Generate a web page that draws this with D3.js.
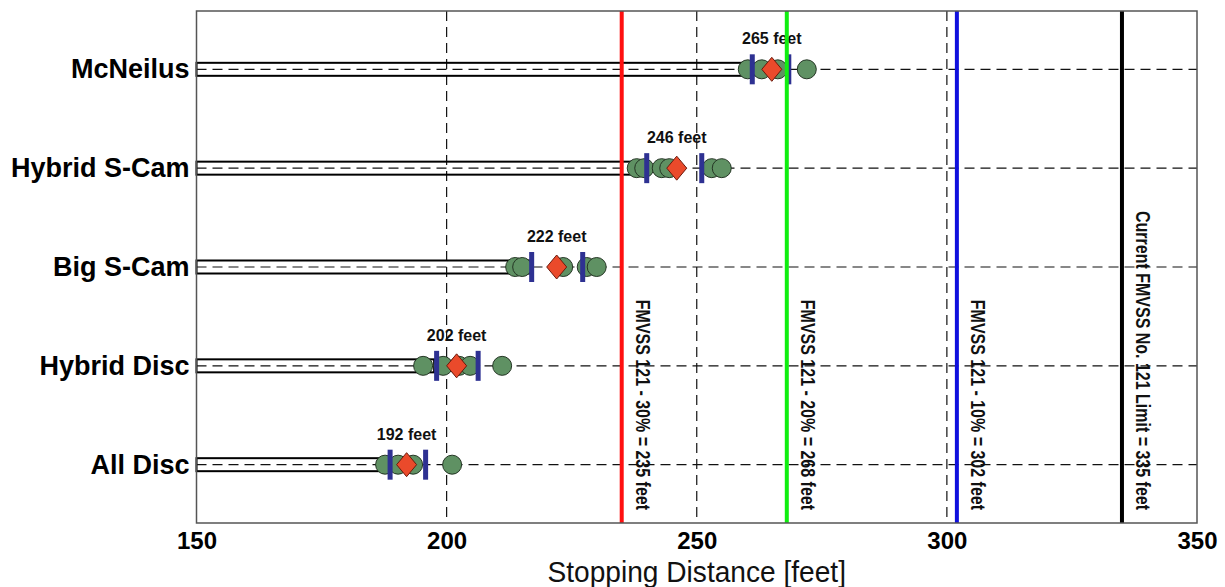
<!DOCTYPE html>
<html>
<head>
<meta charset="utf-8">
<script src="https://cdn.jsdelivr.net/npm/d3@7"></script>
<style>
  body { margin: 0; background: #fff; }
  svg text { font-family: Arial, "Liberation Sans", sans-serif; }
</style>
</head>
<body>
<div id="chart"></div>
<script>
// categories, top to bottom
var categories = ["McNeilus", "Hybrid S-Cam", "Big S-Cam", "Hybrid Disc", "All Disc"];
// average stopping distance per configuration (feet)
var means = [265, 246, 222, 202, 192];
// end of the outlined bar
var barEnds = [261, 240, 217, 197.5, 187];
// blue interval bars
var lowerBars = [261.1, 240, 217, 198, 188.7];
var upperBars = [268.4, 251, 227.2, 206.3, 195.8];
// individual stops
var stops = [
  [260.2, 263, 266.2, 272],
  [238, 239.5, 243, 244.5, 253, 255],
  [213.7, 215.1, 223.3, 228, 230],
  [195.3, 199.3, 202.5, 204.7, 211.1],
  [187.7, 190.3, 193.3, 201.1]
];
// reference limits
var limitValues = [235, 268, 302, 335];
var limitLabels = ["FMVSS 121 - 30%  = 235 feet", "FMVSS 121 - 20%  = 268 feet",
                   "FMVSS 121 - 10%  = 302 feet", "Current FMVSS No. 121 Limit = 335 feet"];
var limitColors = ["#ff1010", "#10ee10", "#1010dd", "#000000"];
var xTicks = [150, 200, 250, 300, 350];
var gridTicks = [200, 250, 300];

function main(){
  var margin = {top: 11, right: 28, bottom: 64, left: 196.5},
      width = 1225 - margin.left - margin.right,
      height = 587 - margin.top - margin.bottom;

  var svg = d3.select("#chart").append("svg")
      .attr("width", 1225)
      .attr("height", 587)
    .append("g")
      .attr("transform", "translate(" + margin.left + "," + margin.top + ")");

  var x = d3.scaleLinear().domain([150, 350]).range([0, width]);
  var y = d3.scalePoint().domain(categories).range([0, height]).padding(0.59);

  // vertical dashed grid
  svg.append("g").selectAll("line")
    .data(gridTicks).enter().append("line")
      .attr("x1", function(d){ return x(d); })
      .attr("x2", function(d){ return x(d); })
      .attr("y1", 0).attr("y2", height)
      .attr("stroke", "#111").attr("stroke-width", 1.2)
      .attr("stroke-dasharray", "10,6");

  // horizontal dashed lines per category
  svg.append("g").selectAll("line")
    .data(categories).enter().append("line")
      .attr("x1", 0).attr("x2", width)
      .attr("y1", function(d){ return y(d); })
      .attr("y2", function(d){ return y(d); })
      .attr("stroke", "#111").attr("stroke-width", 1.2)
      .attr("stroke-dasharray", "10,6");

  // outlined bars
  svg.append("g").selectAll("rect")
    .data(categories).enter().append("rect")
      .attr("x", x(150))
      .attr("y", function(d){ return y(d) - 6.5; })
      .attr("width", function(d, i){ return x(barEnds[i]) - x(150); })
      .attr("height", 13)
      .attr("fill", "none")
      .attr("stroke", "#000").attr("stroke-width", 2);

  // individual stops
  categories.forEach(function(c, i){
    svg.append("g").selectAll("circle")
      .data(stops[i]).enter().append("circle")
        .attr("cx", function(d){ return x(d); })
        .attr("cy", y(c))
        .attr("r", 9.5)
        .attr("fill", "#5f9163")
        .attr("stroke", "#243524").attr("stroke-width", 1);
  });

  // blue interval bars
  var bars = svg.append("g");
  [lowerBars, upperBars].forEach(function(arr){
    bars.selectAll(null)
      .data(categories).enter().append("rect")
        .attr("x", function(d, i){ return x(arr[i]) - 2.5; })
        .attr("y", function(d){ return y(d) - 15; })
        .attr("width", 5).attr("height", 30)
        .attr("fill", "#2e3192");
  });

  // mean diamonds
  svg.append("g").selectAll("path")
    .data(categories).enter().append("path")
      .attr("transform", function(d, i){ return "translate(" + x(means[i]) + "," + y(d) + ")"; })
      .attr("d", "M0,-12L10,0L0,12L-10,0Z")
      .attr("fill", "#ea4a2b")
      .attr("stroke", "#6b1a0c").attr("stroke-width", 1);

  // mean labels
  svg.append("g").selectAll("text")
    .data(categories).enter().append("text")
      .attr("x", function(d, i){ return x(means[i]); })
      .attr("y", function(d){ return y(d) - 25; })
      .attr("text-anchor", "middle")
      .attr("font-size", "16px").attr("font-weight", "bold")
      .attr("fill", "#111")
      .text(function(d, i){ return means[i] + " feet"; });

  // limit lines
  svg.append("g").selectAll("line")
    .data(limitValues).enter().append("line")
      .attr("x1", function(d){ return x(d); })
      .attr("x2", function(d){ return x(d); })
      .attr("y1", 0).attr("y2", height)
      .attr("stroke", function(d, i){ return limitColors[i]; })
      .attr("stroke-width", 4);

  // rotated labels, squeezed a bit to look like a narrow face
  svg.append("g").selectAll("text")
    .data(limitValues).enter().append("text")
      .attr("transform", function(d){ return "translate(" + (x(d) + 14) + "," + (height - 13) + ") rotate(90) scale(0.82,1)"; })
      .attr("text-anchor", "end")
      .attr("font-size", "19.5px")
      .attr("font-weight", "bold")
      .attr("fill", "#111")
      .text(function(d, i){ return limitLabels[i]; });

  // frame
  svg.append("rect")
    .attr("x", 0).attr("y", 0).attr("width", width).attr("height", height)
    .attr("fill", "none").attr("stroke", "#555").attr("stroke-width", 1.5);

  // x axis
  var xg = svg.append("g")
    .attr("transform", "translate(0," + height + ")")
    .call(d3.axisBottom(x).tickValues(xTicks).tickSize(0).tickPadding(9));
  xg.select(".domain").remove();
  xg.selectAll("text")
    .attr("font-size", "24px").attr("font-weight", "bold")
    .attr("font-family", "Arial, 'Liberation Sans', sans-serif")
    .attr("fill", "#000");

  svg.append("text")
    .attr("transform", "translate(" + (width / 2) + "," + (height + 59) + ") scale(0.97,1)")
    .attr("text-anchor", "middle")
    .attr("font-size", "29px")
    .attr("fill", "#111")
    .text("Stopping Distance [feet]");

  // y axis
  var yg = svg.append("g")
    .call(d3.axisLeft(y).tickSize(0).tickPadding(7));
  yg.select(".domain").remove();
  yg.selectAll("text")
    .attr("font-size", "27px").attr("font-weight", "bold")
    .attr("font-family", "Arial, 'Liberation Sans', sans-serif")
    .attr("fill", "#000");
}
main();
</script>
</body>
</html>
